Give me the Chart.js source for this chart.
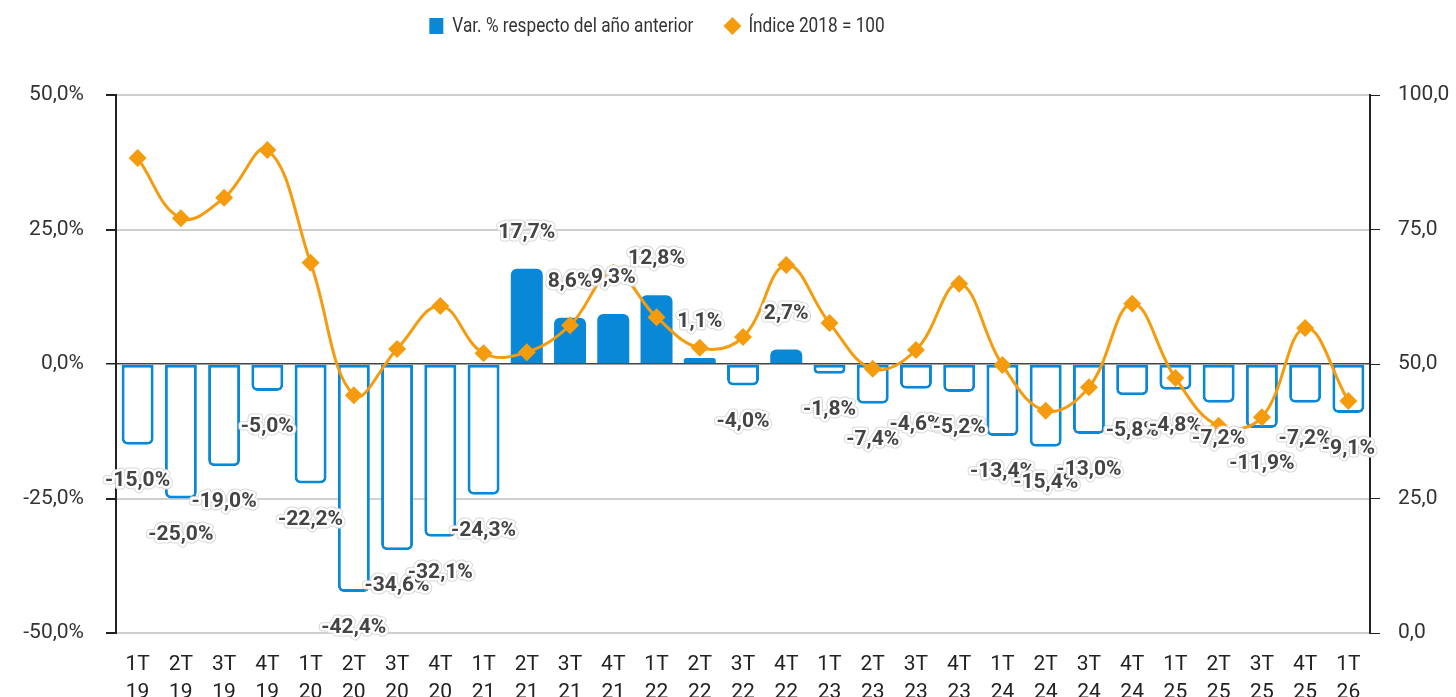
<!DOCTYPE html>
<html lang="es">
<head>
    <meta charset="UTF-8">
    <title>Var. % e Índice 2018 = 100</title>
    <script src="https://cdn.jsdelivr.net/npm/chart.js"></script>
    <style>
        html, body { margin: 0; padding: 0; background: #fff; }
        .wrap { width: 1456px; height: 697px; }
    </style>
</head>
<body>
    <div class="wrap"><canvas id="chart" width="1456" height="697"></canvas></div>

    <script>
        // Trimestres
        const quarters = [
            ['1T', '19'], ['2T', '19'], ['3T', '19'], ['4T', '19'],
            ['1T', '20'], ['2T', '20'], ['3T', '20'], ['4T', '20'],
            ['1T', '21'], ['2T', '21'], ['3T', '21'], ['4T', '21'],
            ['1T', '22'], ['2T', '22'], ['3T', '22'], ['4T', '22'],
            ['1T', '23'], ['2T', '23'], ['3T', '23'], ['4T', '23'],
            ['1T', '24'], ['2T', '24'], ['3T', '24'], ['4T', '24'],
            ['1T', '25'], ['2T', '25'], ['3T', '25'], ['4T', '25'],
            ['1T', '26']
        ];

        // Var. % respecto del año anterior
        const varPct = [
            -15.0, -25.0, -19.0, -5.0,
            -22.2, -42.4, -34.6, -32.1,
            -24.3, 17.7, 8.6, 9.3,
            12.8, 1.1, -4.0, 2.7,
            -1.8, -7.4, -4.6, -5.2,
            -13.4, -15.4, -13.0, -5.8,
            -4.8, -7.2, -11.9, -7.2,
            -9.1
        ];

        // Índice 2018 = 100
        const indice = [
            88.3, 77.1, 80.9, 89.8,
            68.8, 44.2, 52.8, 60.8,
            52.0, 52.2, 57.2, 67.0,
            58.7, 53.0, 55.0, 68.4,
            57.6, 49.1, 52.6, 64.9,
            49.8, 41.3, 45.7, 61.2,
            47.4, 38.5, 40.1, 56.7,
            43.1
        ];

        const leftTicks = [-50, -25, 0, 25, 50];
        const rightTicks = [0, 25, 50, 75, 100];

        const BLUE = '#0a88d8';
        const ORANGE = '#f59c0e';

        const fmt = v => v.toFixed(1).replace('.', ',');

        // etiquetas de valor sobre/bajo cada barra
        const barLabels = {
            id: 'barLabels',
            afterDatasetsDraw(chart) {
                const meta = chart.getDatasetMeta(1);
                const ctx = chart.ctx;
                ctx.save();
                ctx.font = 'bold 21px Roboto';
                ctx.textAlign = 'center';
                ctx.textBaseline = 'middle';
                ctx.lineJoin = 'round';
                meta.data.forEach((bar, i) => {
                    const v = varPct[i];
                    const y = bar.y + (v < 0 ? 36 : -36);
                    const txt = fmt(v) + '%';
                    ctx.strokeStyle = '#d8d8d8';
                    ctx.lineWidth = 7;
                    ctx.strokeText(txt, bar.x, y);
                    ctx.strokeStyle = '#fff';
                    ctx.lineWidth = 5;
                    ctx.strokeText(txt, bar.x, y);
                    ctx.fillStyle = '#444';
                    ctx.fillText(txt, bar.x, y);
                });
                ctx.restore();
            }
        };

        // leyenda dibujada a mano (texto estrecho, algo a la izquierda del centro)
        const legendItems = [
            { text: 'Var. % respecto del año anterior', color: BLUE, style: 'rect' },
            { text: 'Índice 2018 = 100', color: ORANGE, style: 'diamond' }
        ];
        const topLegend = {
            id: 'topLegend',
            afterDraw(chart) {
                const ctx = chart.ctx;
                const sx = 0.82, y = 26, gap = 32, mark = 23;
                ctx.save();
                ctx.font = '21px Roboto';
                ctx.textBaseline = 'middle';
                const widths = legendItems.map(it => ctx.measureText(it.text).width * sx);
                const total = widths.reduce((a, w) => a + w + mark, 0) + gap;
                let x = (chart.chartArea.left + chart.chartArea.right) / 2 - 86 - total / 2;
                legendItems.forEach((it, i) => {
                    ctx.fillStyle = it.color;
                    if (it.style === 'rect') {
                        ctx.fillRect(x, y - 8, 14, 16);
                    } else {
                        ctx.beginPath();
                        ctx.moveTo(x + 7, y - 9);
                        ctx.lineTo(x + 16, y);
                        ctx.lineTo(x + 7, y + 9);
                        ctx.lineTo(x - 2, y);
                        ctx.closePath();
                        ctx.fill();
                    }
                    x += mark;
                    ctx.save();
                    ctx.translate(x, y);
                    ctx.scale(sx, 1);
                    ctx.fillStyle = '#333';
                    ctx.fillText(it.text, 0, 1);
                    ctx.restore();
                    x += widths[i] + gap;
                });
                ctx.restore();
            }
        };

        new Chart(document.getElementById('chart'), {
            data: {
                labels: quarters,
                datasets: [
                    {
                        type: 'line',
                        label: 'Índice 2018 = 100',
                        data: indice,
                        yAxisID: 'y1',
                        borderColor: ORANGE,
                        backgroundColor: ORANGE,
                        borderWidth: 3,
                        tension: 0.4,
                        pointStyle: 'rectRot',
                        pointRadius: 9,
                        pointBorderWidth: 0,
                        pointBackgroundColor: ORANGE
                    },
                    {
                        type: 'bar',
                        label: 'Var. % respecto del año anterior',
                        data: varPct,
                        yAxisID: 'y',
                        backgroundColor: varPct.map(v => v < 0 ? '#ffffff' : BLUE),
                        borderColor: BLUE,
                        borderWidth: varPct.map(v => v < 0 ? 3 : 0),
                        borderRadius: varPct.map(v => v < 0
                            ? { topLeft: 0, topRight: 0, bottomLeft: 6, bottomRight: 6 }
                            : { topLeft: 6, topRight: 6, bottomLeft: 0, bottomRight: 0 }),
                        borderSkipped: false,
                        categoryPercentage: 1,
                        barPercentage: 0.74
                    }
                ]
            },
            options: {
                responsive: false,
                animation: false,
                layout: { padding: { top: 95, bottom: 0, left: 0, right: 0 } },
                plugins: {
                    tooltip: { enabled: false },
                    legend: { display: false }
                },
                scales: {
                    x: {
                        grid: { display: false, drawTicks: false },
                        border: { display: false },
                        ticks: {
                            color: '#222',
                            padding: 18,
                            maxRotation: 0,
                            autoSkip: false,
                            font: { family: 'Roboto', size: 21, lineHeight: 1.32 }
                        },
                        afterFit(scale) { scale.height = 64; }
                    },
                    y: {
                        position: 'left',
                        min: -50,
                        max: 50,
                        afterBuildTicks(scale) { scale.ticks = leftTicks.map(v => ({ value: v })); },
                        ticks: {
                            color: '#333',
                            padding: 22,
                            font: { family: 'Roboto', size: 21 },
                            callback: v => fmt(v) + '%'
                        },
                        grid: {
                            color: c => c.tick && c.tick.value === 0 ? '#444' : '#cfcfcf',
                            lineWidth: c => c.tick && c.tick.value === 0 ? 1.5 : 2,
                            tickColor: '#222',
                            tickLength: 10
                        },
                        border: { color: '#222', width: 2 },
                        afterFit(scale) { scale.width = 116; }
                    },
                    y1: {
                        position: 'right',
                        min: 0,
                        max: 100,
                        afterBuildTicks(scale) { scale.ticks = rightTicks.map(v => ({ value: v })); },
                        ticks: {
                            color: '#333',
                            padding: 18,
                            font: { family: 'Roboto', size: 21 },
                            callback: v => fmt(v)
                        },
                        grid: {
                            drawOnChartArea: false,
                            tickColor: '#222',
                            tickLength: 10
                        },
                        border: { color: '#222', width: 2 },
                        afterFit(scale) { scale.width = 86; }
                    }
                }
            },
            plugins: [barLabels, topLegend]
        });
    </script>
</body>
</html>
